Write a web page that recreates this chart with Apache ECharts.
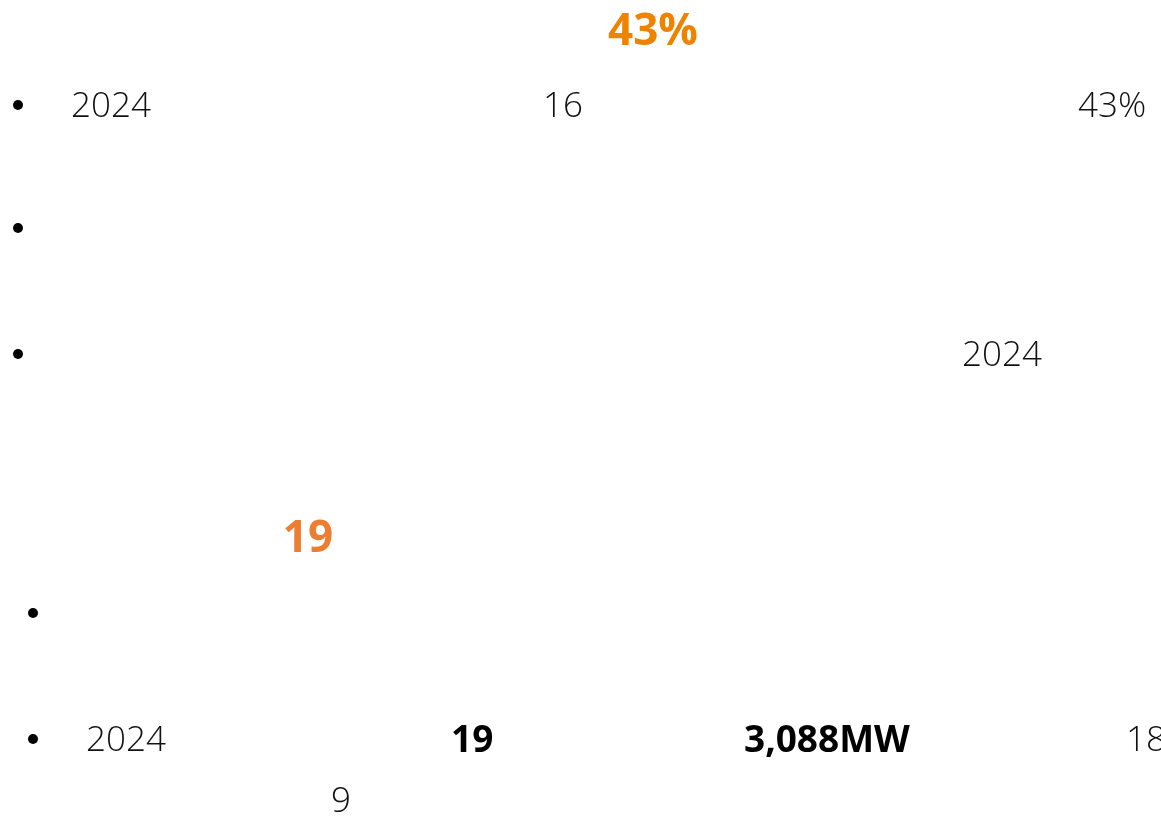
<!DOCTYPE html>
<html>
<head>
<meta charset="utf-8">
<script src="https://cdn.jsdelivr.net/npm/echarts@6/dist/echarts.min.js"></script>
<style>
  html, body { margin: 0; padding: 0; background: #fff; }
  #main { width: 1161px; height: 818px; }
</style>
</head>
<body>
<div id="main"></div>
<script>
// 页面上能看到的文字（中文字形在原图中缺失，只保留数字部分）
const headTop = '43%'
const headMid = '19'
const row1 = ['2024', '16', '43%']
const row3 = ['2024']
const row5 = ['2024', '19', '3,088MW', '18']
const row5b = ['9']

// 版式：每行的 y（数字中线）和每段文字的 x
const bulletRows = [
  { x: 18, y: 105 },
  { x: 18, y: 228 },
  { x: 18, y: 354 },
  { x: 33, y: 613 },
  { x: 33, y: 739 }
]

const light = '300 35px "Open Sans", sans-serif'
const bold = '700 37px "Open Sans", sans-serif'
const headFont = '700 44px "Open Sans", sans-serif'

function txt (x, y, text, font, color, align) {
  return {
    type: 'text',
    x: x,
    y: y,
    style: {
      text: text,
      font: font,
      fill: color || '#111',
      textAlign: align || 'left',
      textVerticalAlign: 'middle'
    }
  }
}

let graphic = []
bulletRows.forEach(function (b) {
  graphic.push({
    type: 'circle',
    shape: { cx: b.x, cy: b.y, r: 5 },
    style: { fill: '#000' }
  })
})

graphic.push(txt(653, 32, headTop, headFont, '#EE8300', 'center'))
graphic.push(txt(71, 107, row1[0], light))
graphic.push(txt(543, 107, row1[1], light))
graphic.push(txt(1078, 107, row1[2], light))
graphic.push(txt(962, 356, row3[0], light))
graphic.push(txt(308, 539, headMid, headFont, '#ED7D31', 'center'))
graphic.push(txt(86, 741, row5[0], light))
graphic.push(txt(451, 741, row5[1], bold, '#000'))
graphic.push(txt(744, 741, row5[2], bold, '#000'))
graphic.push(txt(1126, 741, row5[3], light))
graphic.push(txt(331, 802, row5b[0], light))

let chart = echarts.init(document.getElementById('main'))
chart.setOption({
  backgroundColor: '#fff',
  animation: false,
  graphic: graphic
})
</script>
</body>
</html>
